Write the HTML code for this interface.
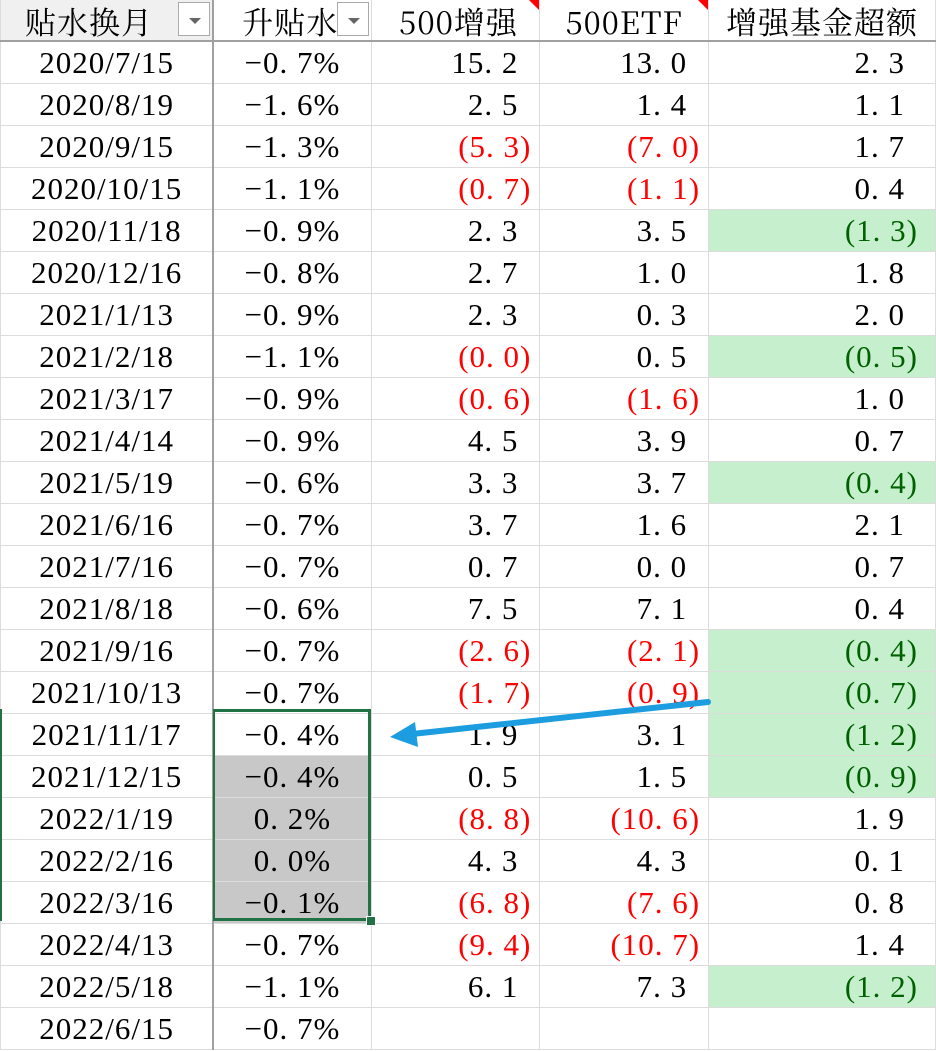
<!DOCTYPE html>
<html><head><meta charset="utf-8"><style>
body{margin:0;width:936px;height:1051px;overflow:hidden;background:#fff;position:relative;font-family:"Liberation Serif","Noto Serif CJK SC",serif;}
table{border-collapse:collapse;position:absolute;left:0;top:0;table-layout:fixed;}
td{height:41px;border:1px solid #dcdcdc;padding:0;font-size:31px;letter-spacing:1px;white-space:nowrap;line-height:41px;color:#000;}
td.a{text-align:center;border-right:2px solid #a0a0a0;}
td.b{text-align:center;}
td.n{text-align:right;padding-right:21px;}
td.p{text-align:right;padding-right:8px;color:#f00;}
td.e{text-align:right;padding-right:30px;}
td.g{text-align:right;padding-right:17px;background:#c6efce;color:#006100;}
td.s{background:#c8c8c8;}
tr.h td{height:40px;line-height:37px;border-top:none;border-bottom:2px solid #a0a0a0;font-family:"Noto Serif CJK SC","Liberation Serif",serif;font-size:31px;}
.dd{position:absolute;top:2px;width:32px;height:34px;border:1px solid #aaa;background:#fff;box-sizing:border-box;}
.dd:after{content:"";position:absolute;left:10px;top:15px;border-left:6px solid transparent;border-right:6px solid transparent;border-top:6px solid #666;}
.tri{position:absolute;top:0;width:0;height:0;border-left:10px solid transparent;border-top:10px solid #f00;}
</style></head><body>
<table>
<colgroup><col style="width:213px"><col style="width:158px"><col style="width:169px"><col style="width:169px"><col style="width:227px"></colgroup>
<tr class="h"><td class="a" style="background:#f0f0f0;text-align:left;padding-left:24px">贴水换月</td><td class="b" style="text-align:left;padding-left:28px">升贴水</td><td style="text-align:center;padding-left:6px">500增强</td><td style="text-align:center">500ETF</td><td style="text-align:center">增强基金超额</td></tr>
<tr><td class="a">2020/7/15</td><td class="b">−0. 7%</td><td class="n">15. 2</td><td class="n">13. 0</td><td class="e">2. 3</td></tr>
<tr><td class="a">2020/8/19</td><td class="b">−1. 6%</td><td class="n">2. 5</td><td class="n">1. 4</td><td class="e">1. 1</td></tr>
<tr><td class="a">2020/9/15</td><td class="b">−1. 3%</td><td class="p">(5. 3)</td><td class="p">(7. 0)</td><td class="e">1. 7</td></tr>
<tr><td class="a">2020/10/15</td><td class="b">−1. 1%</td><td class="p">(0. 7)</td><td class="p">(1. 1)</td><td class="e">0. 4</td></tr>
<tr><td class="a">2020/11/18</td><td class="b">−0. 9%</td><td class="n">2. 3</td><td class="n">3. 5</td><td class="g">(1. 3)</td></tr>
<tr><td class="a">2020/12/16</td><td class="b">−0. 8%</td><td class="n">2. 7</td><td class="n">1. 0</td><td class="e">1. 8</td></tr>
<tr><td class="a">2021/1/13</td><td class="b">−0. 9%</td><td class="n">2. 3</td><td class="n">0. 3</td><td class="e">2. 0</td></tr>
<tr><td class="a">2021/2/18</td><td class="b">−1. 1%</td><td class="p">(0. 0)</td><td class="n">0. 5</td><td class="g">(0. 5)</td></tr>
<tr><td class="a">2021/3/17</td><td class="b">−0. 9%</td><td class="p">(0. 6)</td><td class="p">(1. 6)</td><td class="e">1. 0</td></tr>
<tr><td class="a">2021/4/14</td><td class="b">−0. 9%</td><td class="n">4. 5</td><td class="n">3. 9</td><td class="e">0. 7</td></tr>
<tr><td class="a">2021/5/19</td><td class="b">−0. 6%</td><td class="n">3. 3</td><td class="n">3. 7</td><td class="g">(0. 4)</td></tr>
<tr><td class="a">2021/6/16</td><td class="b">−0. 7%</td><td class="n">3. 7</td><td class="n">1. 6</td><td class="e">2. 1</td></tr>
<tr><td class="a">2021/7/16</td><td class="b">−0. 7%</td><td class="n">0. 7</td><td class="n">0. 0</td><td class="e">0. 7</td></tr>
<tr><td class="a">2021/8/18</td><td class="b">−0. 6%</td><td class="n">7. 5</td><td class="n">7. 1</td><td class="e">0. 4</td></tr>
<tr><td class="a">2021/9/16</td><td class="b">−0. 7%</td><td class="p">(2. 6)</td><td class="p">(2. 1)</td><td class="g">(0. 4)</td></tr>
<tr><td class="a">2021/10/13</td><td class="b">−0. 7%</td><td class="p">(1. 7)</td><td class="p">(0. 9)</td><td class="g">(0. 7)</td></tr>
<tr><td class="a">2021/11/17</td><td class="b">−0. 4%</td><td class="n">1. 9</td><td class="n">3. 1</td><td class="g">(1. 2)</td></tr>
<tr><td class="a">2021/12/15</td><td class="b s">−0. 4%</td><td class="n">0. 5</td><td class="n">1. 5</td><td class="g">(0. 9)</td></tr>
<tr><td class="a">2022/1/19</td><td class="b s">0. 2%</td><td class="p">(8. 8)</td><td class="p">(10. 6)</td><td class="e">1. 9</td></tr>
<tr><td class="a">2022/2/16</td><td class="b s">0. 0%</td><td class="n">4. 3</td><td class="n">4. 3</td><td class="e">0. 1</td></tr>
<tr><td class="a">2022/3/16</td><td class="b s">−0. 1%</td><td class="p">(6. 8)</td><td class="p">(7. 6)</td><td class="e">0. 8</td></tr>
<tr><td class="a">2022/4/13</td><td class="b">−0. 7%</td><td class="p">(9. 4)</td><td class="p">(10. 7)</td><td class="e">1. 4</td></tr>
<tr><td class="a">2022/5/18</td><td class="b">−1. 1%</td><td class="n">6. 1</td><td class="n">7. 3</td><td class="g">(1. 2)</td></tr>
<tr><td class="a">2022/6/15</td><td class="b">−0. 7%</td><td></td><td></td><td></td></tr>
</table>
<div class="dd" style="left:178px"></div>
<div class="dd" style="left:337px"></div>
<div class="tri" style="left:529px"></div>
<div class="tri" style="left:698px"></div>
<div style="position:absolute;left:213px;top:709px;width:158px;height:212px;border:3px solid #217346;box-sizing:border-box;border-left-width:2px"></div>
<div style="position:absolute;left:366px;top:916px;width:8px;height:8px;background:#217346;border:1px solid #fff"></div>
<div style="position:absolute;left:0;top:709px;width:2px;height:212px;background:#217346"></div>
<svg style="position:absolute;left:0;top:0" width="936" height="1051"><line x1="708" y1="702" x2="412" y2="734" stroke="#1b9de0" stroke-width="6" stroke-linecap="round"/><polygon points="390,737 415,722 418,747" fill="#1b9de0"/></svg>
</body></html>
